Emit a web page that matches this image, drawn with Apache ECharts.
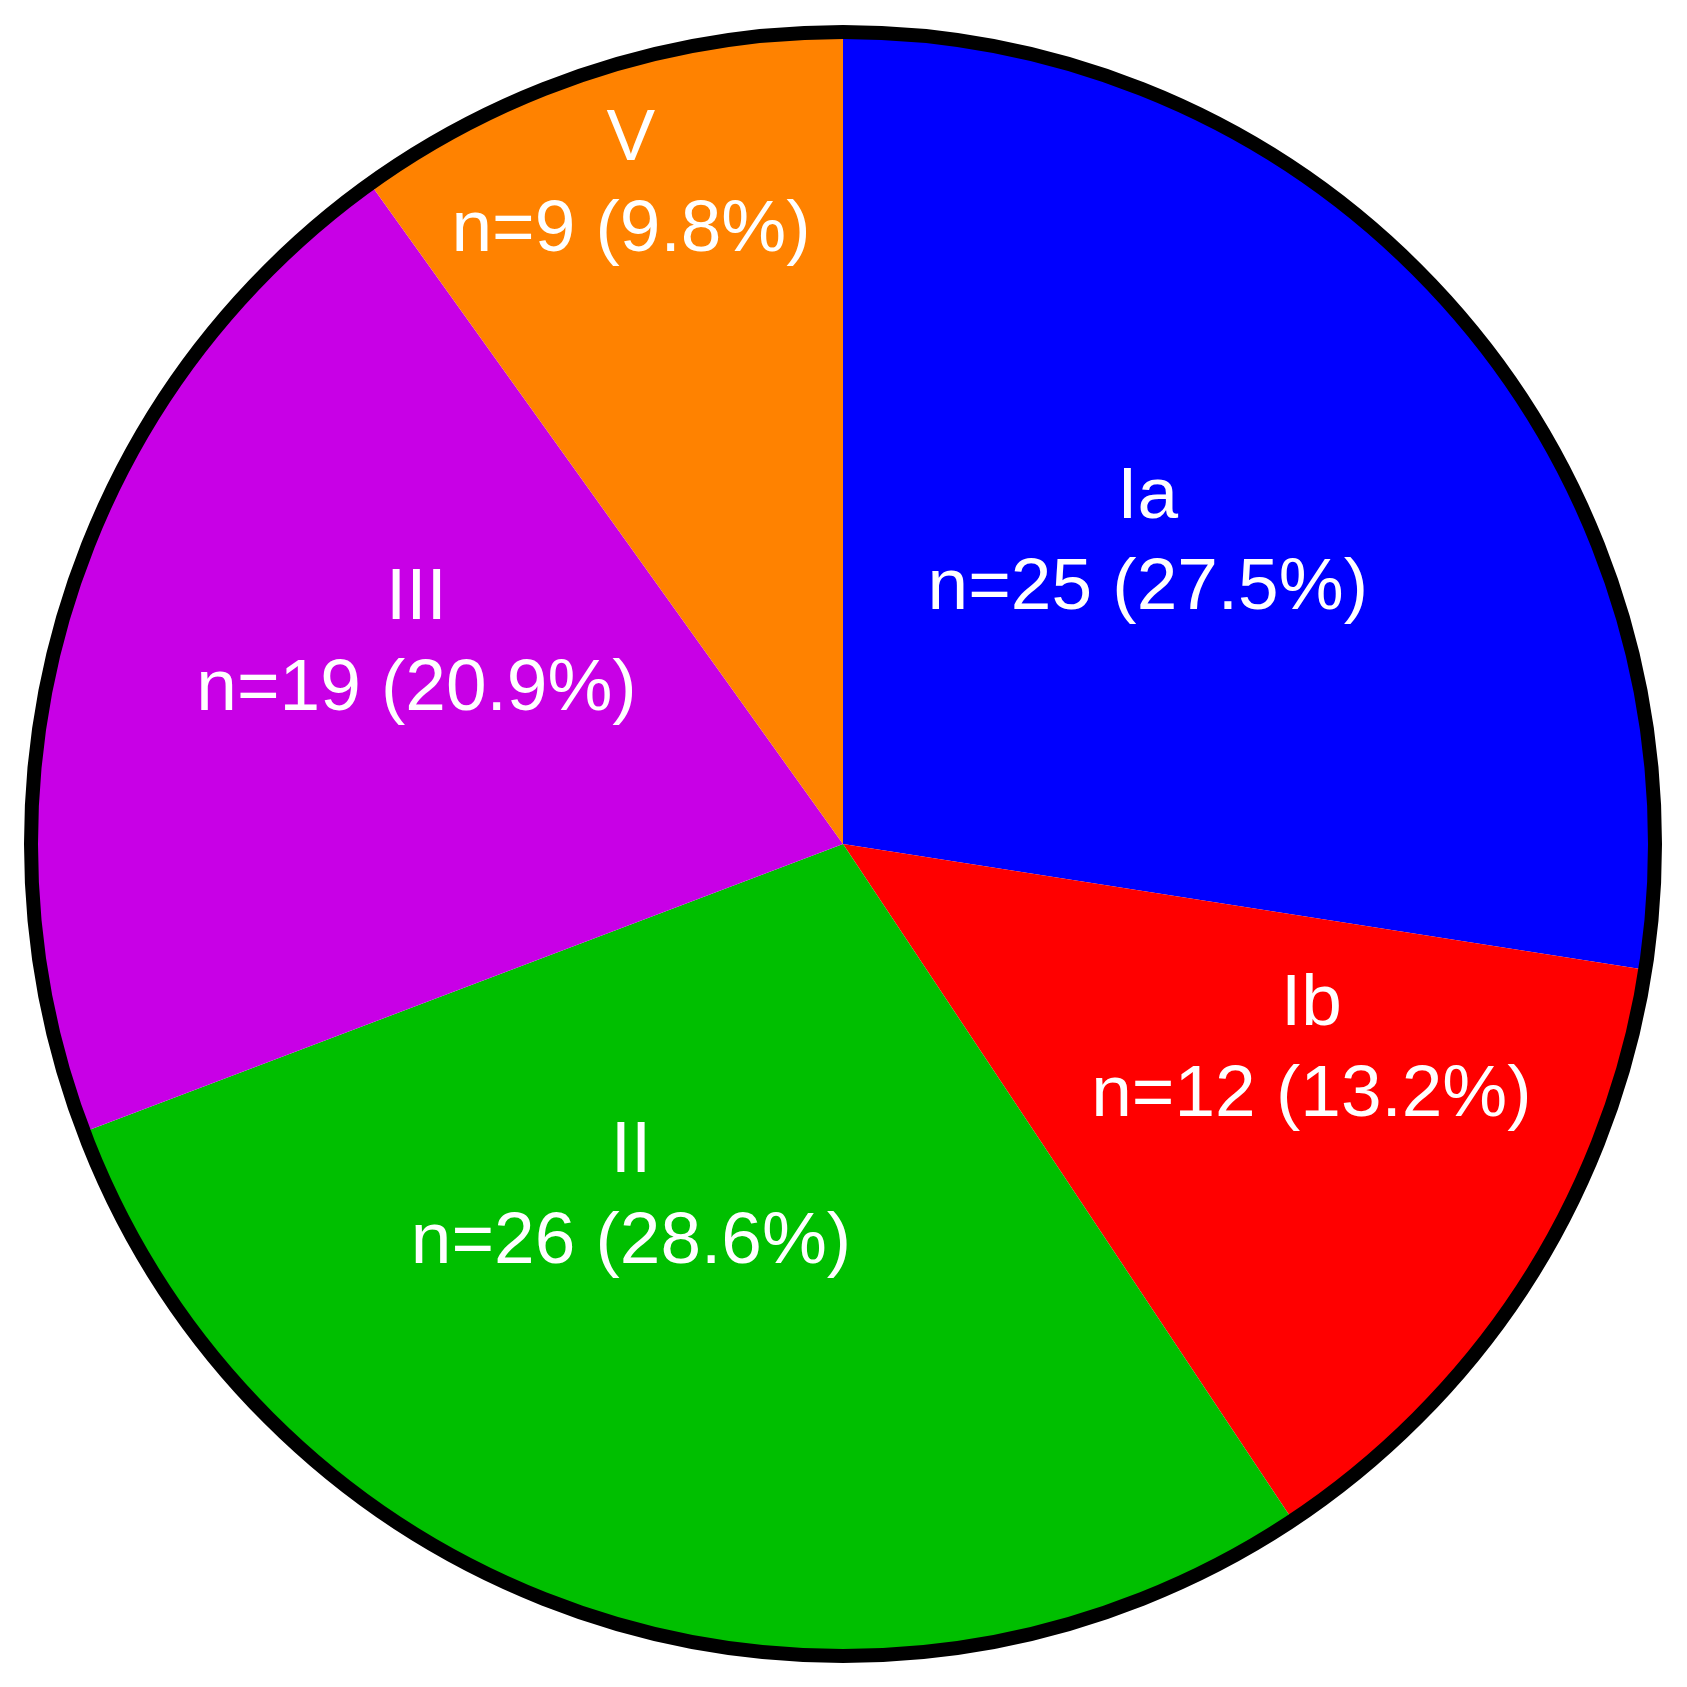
<!DOCTYPE html>
<html>
<head>
<meta charset="utf-8">
<style>
  html, body { margin: 0; padding: 0; background: #fff; }
  #chart { width: 1687px; height: 1687px; }
</style>
<script src="https://cdn.jsdelivr.net/npm/echarts@6/dist/echarts.min.js"></script>
</head>
<body>
<div id="chart"></div>
<script>
const categories = ['Ia', 'Ib', 'II', 'III', 'V'];
const counts = [25, 12, 26, 19, 9];
const percentLabels = ['27.5%', '13.2%', '28.6%', '20.9%', '9.8%'];
const colors = ['#0000FF', '#FF0000', '#00BF00', '#C800E6', '#FF8200'];
// label nudges (px) relative to ECharts' default inside position
const labelDx = [-6, 124, -87, -35, -87];
const labelDy = [-35, -14, -36, -81, -269];

const chart = echarts.init(document.getElementById('chart'));
const data = categories.map((c, i) => ({
  name: c,
  value: counts[i],
  itemStyle: { color: colors[i] },
  label: { formatter: c + '\nn=' + counts[i] + ' (' + percentLabels[i] + ')' }
}));

chart.setOption({
  animation: false,
  backgroundColor: '#ffffff',
  series: [
    {
      type: 'pie',
      center: [843, 844],
      radius: [0, 812],
      startAngle: 90,
      clockwise: true,
      avoidLabelOverlap: false,
      silent: true,
      itemStyle: { borderWidth: 0 },
      label: {
        show: true,
        position: 'inside',
        color: '#ffffff',
        fontFamily: '"Liberation Sans", Arial, sans-serif',
        fontSize: 73,
        lineHeight: 91,
        align: 'center'
      },
      labelLine: { show: false },
      labelLayout: function (params) {
        return { dx: labelDx[params.dataIndex], dy: labelDy[params.dataIndex] };
      },
      data: data
    },
    {
      type: 'pie',
      center: [843, 844],
      radius: [0, 812],
      silent: true,
      label: { show: false },
      labelLine: { show: false },
      itemStyle: { color: 'rgba(0,0,0,0)', borderColor: '#000000', borderWidth: 14 },
      data: [{ value: 1, name: 'outline' }]
    }
  ]
});
</script>
</body>
</html>
